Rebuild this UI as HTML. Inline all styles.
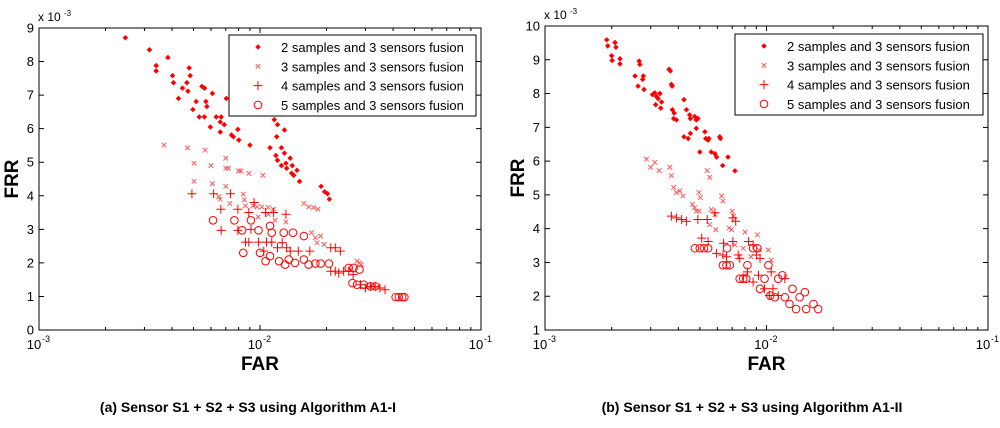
<!DOCTYPE html>
<html><head><meta charset="utf-8"><style>
body{margin:0;background:#fff;width:1000px;height:423px;overflow:hidden;font-family:"Liberation Sans",sans-serif}
svg text{font-family:"Liberation Sans",sans-serif}
</style></head><body>
<svg id="c" width="1000" height="423"></svg>
<script>
// FAR in units of 1e-3, FRR in units of 1e-3
const a2 = [[2.46,8.71],[3.16,8.35],[3.39,7.88],[3.39,7.72],[3.83,8.12],[4.02,7.58],[4.06,7.37],[4.28,6.9],[4.46,7.21],[4.67,7.37],[4.72,7.12],[4.78,7.81],[4.83,7.58],[4.97,6.57],[5.14,6.81],[5.31,6.35],[5.46,7.26],[5.61,7.21],[5.6,6.35],[5.69,6.81],[5.75,6.66],[5.96,6.05],[6.09,7.05],[6.34,6.35],[6.61,6.2],[6.67,6.35],[6.61,5.9],[6.89,6.12],[7.04,6.9],[7.43,5.81],[7.58,5.76],[7.94,5.98],[8.02,5.66],[9.0,5.51],[11.1,5.43],[11.6,6.27],[12.0,6.12],[11.9,5.76],[11.8,5.2],[12.0,5.06],[12.5,5.43],[12.9,5.27],[12.9,5.96],[12.5,4.9],[13.1,4.97],[13.2,4.82],[13.7,5.12],[14.0,4.9],[13.9,4.67],[14.2,4.61],[14.7,4.76],[15.1,4.43],[18.9,4.28],[19.6,4.12],[20.2,4.06],[20.6,3.9]];
const a3 = [[3.68,5.51],[4.7,5.43],[5.65,5.36],[5.03,4.97],[5.03,4.43],[6.0,4.9],[6.09,4.36],[7.0,5.12],[7.0,4.82],[7.2,4.82],[7.0,4.28],[6.5,3.97],[6.6,3.9],[7.3,3.77],[8.0,4.74],[8.2,4.74],[8.9,4.67],[10.3,4.61],[8.4,4.05],[8.5,3.88],[8.6,3.7],[9.3,3.7],[9.7,3.67],[10.2,3.67],[10.9,3.65],[11.5,3.6],[9.8,3.37],[10.9,3.45],[11.7,3.27],[13.1,3.22],[15.8,3.77],[16.6,3.67],[17.5,3.65],[18.3,3.6],[17.1,2.9],[17.8,2.75],[18.1,2.6],[18.8,2.8],[19.5,2.55],[27.5,2.05],[28.2,2.0],[28.7,1.95],[25.5,1.8]];
const a4 = [[4.92,4.06],[6.17,4.06],[7.35,4.06],[6.65,3.6],[7.94,3.6],[8.9,3.5],[9.4,3.8],[6.67,2.97],[7.94,2.97],[9.1,3.0],[8.6,2.62],[8.9,2.62],[9.85,2.62],[10.7,2.62],[11.3,2.62],[10.6,3.5],[11.5,3.5],[13.1,3.45],[10.4,2.35],[12.0,2.45],[12.6,2.6],[13.2,2.45],[13.7,2.35],[14.9,2.35],[16.8,2.35],[20.9,2.45],[21.9,2.45],[23.1,2.35],[20.9,1.75],[21.9,1.75],[22.7,1.7],[23.9,1.75],[25.2,1.75],[26.4,1.65],[28.5,1.35],[30.0,1.25],[31.6,1.3],[33.2,1.3],[34.9,1.25],[36.8,1.2]];
const a5 = [[6.13,3.27],[7.66,3.27],[9.1,3.27],[8.3,2.97],[9.85,2.97],[11.3,2.9],[11.1,3.1],[12.8,2.9],[14.1,2.9],[8.4,2.3],[10.0,2.3],[11.1,2.2],[10.6,2.05],[12.2,2.05],[13.0,1.95],[13.5,2.1],[14.4,2.0],[15.8,2.1],[16.6,1.95],[17.8,1.98],[18.8,1.98],[20.5,1.98],[15.8,2.8],[25.2,1.85],[26.5,1.85],[28.2,1.8],[26.2,1.4],[27.5,1.35],[29.5,1.35],[31.6,1.3],[33.2,1.3],[41.1,0.98],[42.5,0.98],[44.0,0.98],[45.0,0.98]];
const b2 = [[1.9,9.59],[1.92,9.41],[2.07,9.51],[2.09,9.37],[2.0,9.12],[2.01,8.98],[2.18,9.03],[2.18,8.88],[2.55,8.52],[2.66,8.96],[2.68,8.86],[2.63,8.22],[2.76,8.42],[2.78,8.52],[2.8,8.12],[3.06,7.97],[3.13,8.02],[3.19,7.91],[3.16,7.67],[3.24,7.85],[3.3,8.0],[3.36,7.75],[3.33,7.57],[3.63,8.72],[3.68,8.67],[3.72,8.27],[3.75,8.22],[3.76,7.52],[3.83,7.42],[3.81,7.26],[3.92,7.22],[4.24,7.82],[4.35,7.52],[4.5,7.37],[4.53,7.26],[4.74,7.32],[4.82,7.22],[4.9,7.26],[4.82,6.97],[4.24,6.72],[4.43,6.67],[4.53,6.82],[5.27,6.87],[5.32,6.67],[5.45,6.62],[5.49,6.67],[5.0,6.27],[5.63,6.27],[5.85,6.22],[5.95,6.12],[6.15,6.72],[6.19,6.67],[6.7,6.12],[6.34,5.87],[7.2,5.71]];
const b3 = [[2.87,6.06],[3.0,5.82],[3.13,5.96],[3.28,5.72],[3.66,5.82],[3.72,5.57],[3.81,5.22],[3.92,5.07],[4.06,5.12],[4.2,4.97],[4.63,4.72],[4.74,4.62],[4.82,4.52],[4.96,4.52],[4.95,5.07],[5.03,4.92],[5.4,5.72],[5.54,5.52],[5.63,4.57],[5.85,4.42],[5.54,4.12],[5.9,3.97],[6.27,4.97],[6.36,4.82],[7.0,4.52],[7.1,4.37],[6.78,4.02],[6.95,3.97],[7.2,3.52],[7.85,3.42],[8.0,3.9],[9.1,3.82],[8.5,3.17],[9.3,3.37],[10.2,3.37],[10.5,3.07],[8.0,2.62]];
const b4 = [[3.72,4.37],[3.92,4.32],[4.14,4.27],[4.35,4.22],[4.9,4.27],[5.4,4.27],[5.1,3.72],[5.45,3.62],[5.85,4.47],[7.05,4.32],[7.26,4.22],[5.95,3.27],[6.36,3.22],[6.6,3.17],[6.4,3.57],[7.05,3.62],[7.45,3.22],[7.57,3.12],[8.3,3.62],[8.7,3.52],[9.0,3.22],[9.35,3.12],[8.2,2.72],[8.7,2.42],[9.2,2.62],[9.8,2.22],[10.3,2.02],[10.7,2.22],[11.3,2.02],[12.1,2.52],[10.5,2.72]];
const b5 = [[4.75,3.42],[5.0,3.42],[5.22,3.42],[5.45,3.42],[6.36,2.92],[6.6,2.92],[6.83,2.92],[6.64,3.42],[7.57,2.52],[7.85,2.52],[8.1,2.52],[8.2,2.92],[8.7,3.42],[9.1,3.42],[9.35,2.22],[9.8,2.52],[10.2,2.92],[10.4,2.02],[10.9,1.97],[11.3,2.52],[11.8,2.62],[12.1,1.97],[12.7,1.77],[13.1,2.22],[13.6,1.62],[14.1,1.97],[14.9,2.12],[15.1,1.62],[16.3,1.77],[17.1,1.62]];
const legendLabels = ["2 samples and 3 sensors fusion","3 samples and 3 sensors fusion","4 samples and 3 sensors fusion","5 samples and 3 sensors fusion"];
const yTicksA = [0,1,2,3,4,5,6,7,8,9];
const yTicksB = [1,2,3,4,5,6,7,8,9,10];
const xTickExp = [-3,-2,-1];

const NS="http://www.w3.org/2000/svg", svg=document.getElementById('c');
function mk(t,at,p){const e=document.createElementNS(NS,t);for(const k in at)e.setAttribute(k,at[k]);(p||svg).appendChild(e);return e;}
function marker(g,type,x,y){
  let e;
  if(type===0){e=mk('path',{d:`M${x-2.2},${y}L${x},${y-2.2}L${x+2.2},${y}L${x},${y+2.2}Z`,fill:'#f00',stroke:'#f00','stroke-width':0.8},g);}
  else if(type===1){e=mk('path',{d:`M${x-2.3},${y-2.3}L${x+2.3},${y+2.3}M${x-2.3},${y+2.3}L${x+2.3},${y-2.3}`,stroke:'#ff5a5a','stroke-width':1,fill:'none'},g);}
  else if(type===2){e=mk('path',{d:`M${x-4.5},${y}H${x+4.5}M${x},${y-4.5}V${y+4.5}`,stroke:'#f00','stroke-width':1,fill:'none'},g);}
  else {e=mk('circle',{cx:x,cy:y,r:3.8,stroke:'#f00','stroke-width':1,fill:'none'},g);}
  return e;
}
function plot(P){
  const {L,R,T,B,y0,y1,series,yTicks,leg,id}=P;
  const xs=v=>L+(Math.log10(v*1e-3)+3)/2*(R-L);
  const ys=v=>B-(v-y0)/(y1-y0)*(B-T);
  const g=mk('g',{});
  mk('rect',{x:L,y:T,width:R-L,height:B-T,fill:'#fff',stroke:'#000','stroke-width':1},g);
  let tk='';
  yTicks.forEach(v=>{const y=ys(v);tk+=`M${L},${y}h5M${R},${y}h-5`;
    const t=mk('text',{x:L-5,y:y+4.5,'text-anchor':'end','font-size':13},g);t.textContent=v;});
  for(let d=-3;d<-1;d++)for(let m=1;m<10;m++){const x=xs(m*Math.pow(10,d)*1e3);const len=m===1?5:3;tk+=`M${x},${B}v-${len}M${x},${T}v${len}`;}
  tk+=`M${R},${B}v-5M${R},${T}v5`;
  mk('path',{d:tk,stroke:'#000','stroke-width':1,fill:'none'},g);
  xTickExp.forEach(e=>{const x=xs(Math.pow(10,e)*1e3);const t=mk('text',{x:x-5,y:B+19,'text-anchor':'middle','font-size':13},g);t.textContent='10';
    const s=mk('text',{x:x+3,y:B+12,'font-size':9},g);s.textContent=String(e);});
  const ex=mk('text',{x:L-1,y:T-7,'font-size':12},g);ex.textContent='x 10';
  const ex2=mk('text',{x:L+25,y:T-12,'font-size':8},g);ex2.textContent='-3';
  const xl=mk('text',{x:(L+R)/2,y:B+40,'text-anchor':'middle','font-size':19,'font-weight':'bold'},g);xl.textContent='FAR';
  const yl=mk('text',{x:0,y:0,'text-anchor':'middle','font-size':19,'font-weight':'bold',transform:`translate(${L-21},${(T+B)/2}) rotate(-90)`},g);yl.textContent='FRR';
  series.forEach((s,i)=>{const sg=mk('g',{},g);
    s.forEach(p=>{const m=marker(sg,i,xs(p[0]),ys(p[1]));});});
  const lg=mk('g',{},g);
  mk('rect',{x:leg[0],y:leg[1],width:leg[2],height:81,fill:'#fff',stroke:'#000','stroke-width':1},lg);
  legendLabels.forEach((l,i)=>{const y=leg[1]+12+i*19.3;marker(lg,i,leg[0]+29,y);
    const t=mk('text',{x:leg[0]+52,y:y+5,'font-size':13},lg);t.textContent=l;});
}
plot({id:'a',L:39,R:481,T:28,B:330,y0:0,y1:9,series:[a2,a3,a4,a5],yTicks:yTicksA,leg:[229,35,247]});
plot({id:'b',L:545,R:988,T:26,B:330,y0:1,y1:10,series:[b2,b3,b4,b5],yTicks:yTicksB,leg:[735,34,248]});
const c1=mk('text',{x:248,y:412,'text-anchor':'middle','font-size':14,'font-weight':'bold'});c1.textContent='(a) Sensor S1 + S2 + S3 using Algorithm A1-I';

const c2=mk('text',{x:752,y:412,'text-anchor':'middle','font-size':14,'font-weight':'bold'});c2.textContent='(b) Sensor S1 + S2 + S3 using Algorithm A1-II';

</script>
</body></html>
